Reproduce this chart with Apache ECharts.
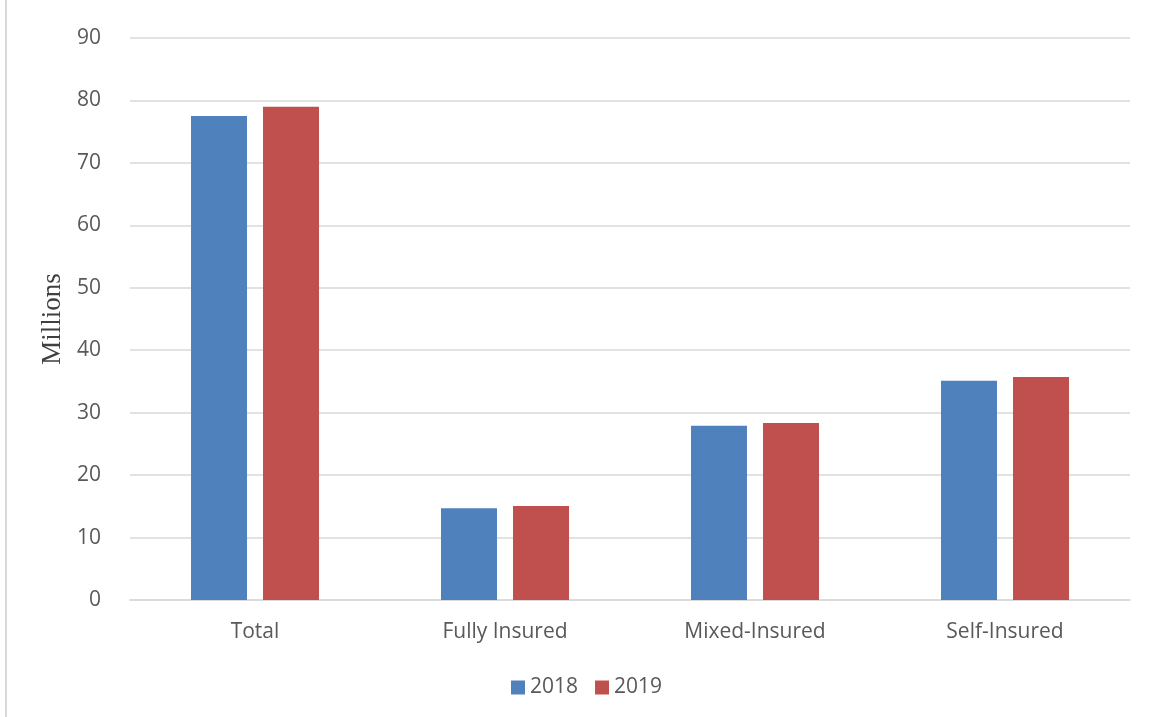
<!DOCTYPE html>
<html><head><meta charset="utf-8">
<script src="https://cdn.jsdelivr.net/npm/echarts@6/dist/echarts.min.js"></script>
<style>html,body{margin:0;padding:0;background:#fff}#c{width:1150px;height:717px}
#b{position:absolute;left:5px;top:0;width:2px;height:717px;background:#d9d9d9}</style>
</head><body><div id="b"></div><div id="c"></div>
<script>
const categories = ['Total', 'Fully Insured', 'Mixed-Insured', 'Self-Insured'];
const series2018 = [77.5, 14.7, 27.9, 35.1];
const series2019 = [79.0, 15.05, 28.35, 35.7];
const chart = echarts.init(document.getElementById('c'));
chart.setOption({
  animation: false,
  grid: {left: 130, right: 20, top: 38, bottom: 117},
  legend: {
    bottom: 19, left: 511, padding: 0, itemWidth: 14, itemHeight: 14, itemGap: 17,
    textStyle: {fontFamily: 'Open Sans', fontSize: 21, color: '#595959'},
    icon: 'rect'
  },
  xAxis: {
    type: 'category', data: categories,
    axisLine: {lineStyle: {color: '#d9d9d9', width: 1.5}},
    axisTick: {show: false},
    axisLabel: {fontFamily: 'Open Sans', fontSize: 21, color: '#595959', margin: 22}
  },
  yAxis: {
    type: 'value', min: 0, max: 90, interval: 10,
    name: 'Millions', nameLocation: 'middle', nameGap: 64, nameRotate: 90,
    nameTextStyle: {fontFamily: 'Liberation Serif', fontSize: 27, color: '#404040'},
    axisLine: {show: false}, axisTick: {show: false},
    splitLine: {lineStyle: {color: '#d9d9d9', width: 1.5}},
    axisLabel: {fontFamily: 'Open Sans', fontSize: 21, color: '#595959', margin: 29}
  },
  series: [
    {name: '2018', type: 'bar', data: series2018, barWidth: 56, barGap: '28.6%',
     itemStyle: {color: '#4f81bd'}},
    {name: '2019', type: 'bar', data: series2019, barWidth: 56,
     itemStyle: {color: '#c0504d'}}
  ]
});
</script></body></html>
